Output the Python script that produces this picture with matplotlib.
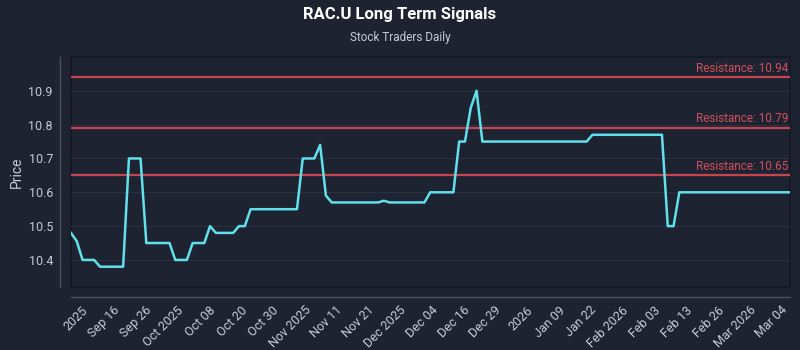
import numpy as np
import matplotlib
matplotlib.use("Agg")
import matplotlib.pyplot as plt

# ---- data ----
prices = [10.48, 10.455, 10.40, 10.40, 10.40, 10.38, 10.38, 10.38, 10.38, 10.38,
          10.70, 10.70, 10.70, 10.45, 10.45, 10.45, 10.45, 10.45, 10.40, 10.40,
          10.40, 10.45, 10.45, 10.45, 10.50, 10.48, 10.48, 10.48, 10.48, 10.50,
          10.50, 10.55, 10.55, 10.55, 10.55, 10.55, 10.55, 10.55, 10.55, 10.55,
          10.70, 10.70, 10.70, 10.74, 10.59, 10.57, 10.57, 10.57, 10.57, 10.57,
          10.57, 10.57, 10.57, 10.57, 10.575, 10.57, 10.57, 10.57, 10.57, 10.57,
          10.57, 10.57, 10.60, 10.60, 10.60, 10.60, 10.60, 10.75, 10.75, 10.85,
          10.90, 10.75, 10.75, 10.75, 10.75, 10.75, 10.75, 10.75, 10.75, 10.75,
          10.75, 10.75, 10.75, 10.75, 10.75, 10.75, 10.75, 10.75, 10.75, 10.75,
          10.77, 10.77, 10.77, 10.77, 10.77, 10.77, 10.77, 10.77, 10.77, 10.77,
          10.77, 10.77, 10.77, 10.50, 10.50, 10.60, 10.60, 10.60, 10.60, 10.60,
          10.60, 10.60, 10.60, 10.60, 10.60, 10.60, 10.60, 10.60, 10.60, 10.60,
          10.60, 10.60, 10.60, 10.60, 10.60]
resistance = [10.94, 10.79, 10.65]
tick_labels = ["2025", "Sep 16", "Sep 26", "Oct 2025", "Oct 08", "Oct 20", "Oct 30",
               "Nov 2025", "Nov 11", "Nov 21", "Dec 2025", "Dec 04", "Dec 16", "Dec 29",
               "2026", "Jan 09", "Jan 22", "Feb 2026", "Feb 03", "Feb 13", "Feb 26",
               "Mar 2026", "Mar 04"]
title = "RAC.U Long Term Signals"
subtitle = "Stock Traders Daily"

BG = "#1e2331"
TXT = "#c5cbd6"
LINE = "#5fe0ea"
RES = "#c4444f"
RES_TXT = "#d0505b"

plt.rcParams['font.family'] = ['Roboto', 'DejaVu Sans']

fig = plt.figure(figsize=(8, 3.5), dpi=100, facecolor=BG)
ax = fig.add_axes([71/800, 1-287/350, (790-71)/800, (287-57)/350])
ax.set_facecolor(BG)
ax.patch.set_edgecolor("#141824")
ax.patch.set_linewidth(1.2)

x = np.arange(len(prices))
ax.plot(x, prices, color=LINE, lw=1.8, zorder=3)

for r in resistance:
    ax.axhline(r, color=RES, lw=1.6, zorder=2)
    ax.text(len(prices) - 1.2, r + 0.008, f"Resistance: {r:.2f}", color=RES_TXT,
            ha="right", va="bottom", fontsize=8.5)

ax.set_xlim(0, len(prices) - 1)
ax.set_ylim(10.32, 11.0)
ax.set_yticks([10.4, 10.5, 10.6, 10.7, 10.8, 10.9])
ax.grid(axis="y", color="#2b3142", lw=0.8)
ax.grid(axis="x", visible=False)
ax.set_axisbelow(True)

tick_pos = np.linspace(3.4, len(prices) - 0.9, len(tick_labels))
ax.set_xticks(tick_pos)
ax.set_xticklabels(tick_labels)

for s in ["top", "right"]:
    ax.spines[s].set_visible(False)
ax.spines["left"].set_position(("outward", 8))
ax.spines["bottom"].set_position(("outward", 7))
for s in ["left", "bottom"]:
    ax.spines[s].set_color("#4a5163")
    ax.spines[s].set_linewidth(1.0)

ax.tick_params(axis="both", length=0, colors=TXT, labelsize=9)
ax.tick_params(axis="y", pad=5)
ax.tick_params(axis="x", pad=5, labelrotation=45)
for lbl in ax.get_xticklabels():
    lbl.set_horizontalalignment("right")
    lbl.set_rotation(45)
ax.set_ylabel("Price", color=TXT, fontsize=10, labelpad=3)

fig.text(0.5, 1-15/350, title, ha="center", va="center", color="white",
         fontsize=12, fontweight="bold")
fig.text(0.5, 1-38/350, subtitle, ha="center", va="center", color=TXT, fontsize=8.5)

fig.savefig("out.png", dpi=100, facecolor=BG)
